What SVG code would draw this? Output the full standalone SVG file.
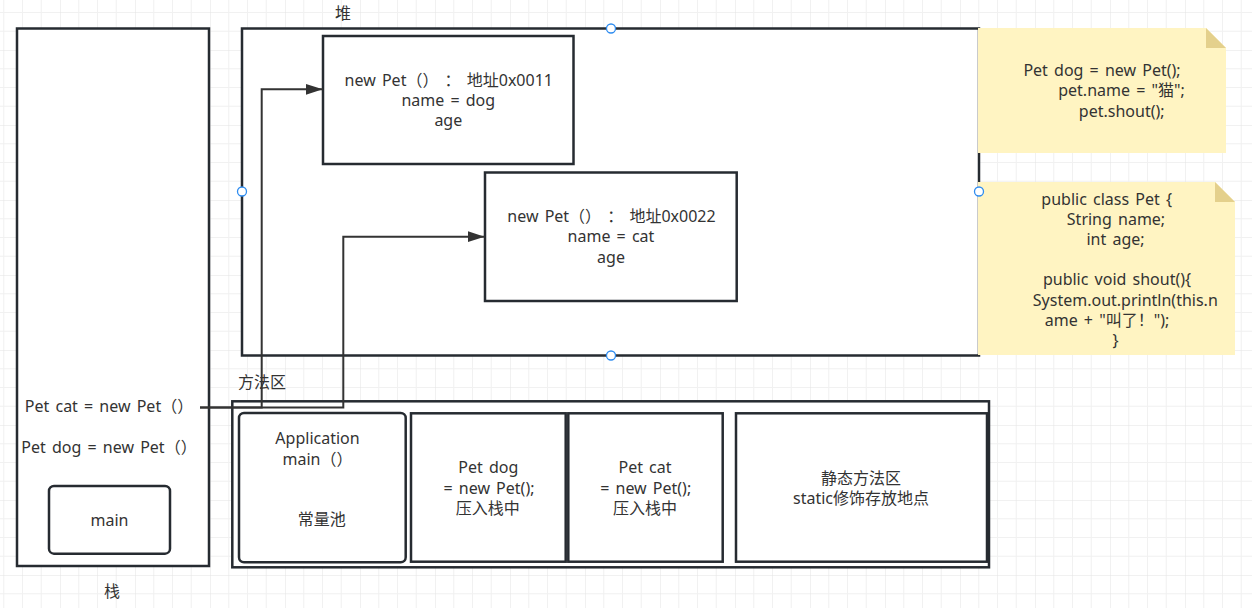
<svg xmlns="http://www.w3.org/2000/svg" width="1252" height="608" viewBox="0 0 1252 608">
<defs>
<pattern id="grid" patternUnits="userSpaceOnUse" x="60" y="50" width="75" height="75">
<rect x="0" y="0" width="75" height="75" fill="#ffffff"/>
<rect x="18.25" y="0" width="1" height="75" fill="#f1f1f1"/>
<rect x="37" y="0" width="1" height="75" fill="#f1f1f1"/>
<rect x="55.75" y="0" width="1" height="75" fill="#f1f1f1"/>
<rect x="0" y="18.25" width="75" height="1" fill="#f1f1f1"/>
<rect x="0" y="37" width="75" height="1" fill="#f1f1f1"/>
<rect x="0" y="55.75" width="75" height="1" fill="#f1f1f1"/>
<rect x="-0.5" y="0" width="1" height="75" fill="#e4e4e4"/>
<rect x="0" y="-0.5" width="75" height="1" fill="#e4e4e4"/>
</pattern>
<marker id="arrow" markerUnits="userSpaceOnUse" markerWidth="18" markerHeight="12" refX="17" refY="6" orient="auto">
<path d="M0,0.5 L17,6 L0,11.5 Z" fill="#333333"/>
</marker>
<style>
.box{fill:#ffffff;stroke:#262b31;stroke-width:2.5}
.t{font-family:"Noto Sans","Noto Sans CJK SC",sans-serif;font-size:16px;fill:#333333;text-anchor:middle;word-spacing:2px}
.note{fill:#fff4c2}
.fold{fill:#e4d08c}
.handle{fill:#ffffff;stroke:#2e8cf0;stroke-width:1.3}
.conn{fill:none;stroke:#333333;stroke-width:2}
</style>
</defs>
<rect x="0" y="0" width="1252" height="608" fill="url(#grid)"/>

<g id="stack">
<rect class="box" x="17" y="28.5" width="192" height="537.5"/>
<text class="t" x="109" y="412.2">Pet cat = new Pet（）</text>
<text class="t" x="109" y="453.2">Pet dog = new Pet（）</text>
<text class="t" x="112" y="597.2">栈</text>
</g>
<g id="main">
<rect class="box" x="49" y="486" width="121" height="67.7" rx="5"/>
<text class="t" x="109.5" y="525.5">main</text>
</g>

<g id="heap">
<rect class="box" x="242" y="28.5" width="737" height="327"/>
<text class="t" x="343" y="18.5">堆</text>
</g>
<g id="obj1">
<rect class="box" x="323" y="36" width="250.5" height="128"/>
<text class="t" x="448.8" y="86.2">new Pet（） ： 地址0x0011</text>
<text class="t" x="448.3" y="106.2">name = dog</text>
<text class="t" x="448.3" y="126.2">age</text>
</g>
<g id="obj2">
<rect class="box" x="485" y="172.5" width="251.7" height="128.5"/>
<text class="t" x="611.5" y="221.7">new Pet（） ： 地址0x0022</text>
<text class="t" x="611" y="241.7">name = cat</text>
<text class="t" x="611" y="262.5">age</text>
</g>

<g id="note1">
<path class="note" d="M978,28 H1206 L1226,48 V153 H978 Z"/>
<path class="fold" d="M1206,28 V48 H1226 Z"/>
<text class="t" x="1102" y="75.7">Pet dog = new Pet();</text>
<text class="t" x="1121.5" y="96.2">pet.name = "猫";</text>
<text class="t" x="1121.7" y="117.2">pet.shout();</text>
</g>
<g id="note2">
<path class="note" d="M978,182 H1215 L1235,202 V355 H978 Z"/>
<path class="fold" d="M1215,182 V202 H1235 Z"/>
<text class="t" x="1106.7" y="204.5">public class Pet {</text>
<text class="t" x="1116" y="224.5">String name;</text>
<text class="t" x="1115.5" y="244.7">int age;</text>
<text class="t" x="1117" y="284.7">public void shout(){</text>
<text class="t" x="1125.3" y="305.5">System.out.println(this.n</text>
<text class="t" x="1107" y="326.2">ame + "叫了！");</text>
<text class="t" x="1115.5" y="346.2">}</text>
</g>

<g id="handles">
<circle class="handle" cx="611" cy="28.5" r="4.5"/>
<circle class="handle" cx="242" cy="191.5" r="4.5"/>
<circle class="handle" cx="979" cy="191.5" r="4.5"/>
<circle class="handle" cx="611" cy="355.5" r="4.5"/>
</g>

<g id="method-area">
<rect class="box" x="232.3" y="401.3" width="756.7" height="166"/>
<text class="t" x="262" y="387.5">方法区</text>
</g>
<g id="application">
<rect class="box" x="239" y="413" width="166.7" height="149.3" rx="5"/>
<text class="t" x="317.5" y="444.3">Application</text>
<text class="t" x="317.5" y="464.5">main（）</text>
<text class="t" x="321.7" y="524.8">常量池</text>
</g>
<g id="petdog">
<rect class="box" x="411" y="413.3" width="154.7" height="148.4"/>
<text class="t" x="488.3" y="473.2">Pet dog</text>
<text class="t" x="489" y="493.8">= new Pet();</text>
<text class="t" x="487.7" y="513.8">压入栈中</text>
</g>
<g id="petcat">
<rect class="box" x="568.3" y="413.3" width="154.4" height="148.4"/>
<text class="t" x="645" y="473.2">Pet cat</text>
<text class="t" x="645.7" y="493.5">= new Pet();</text>
<text class="t" x="645" y="513.5">压入栈中</text>
</g>
<g id="static">
<rect class="box" x="736" y="413.3" width="251" height="148.4"/>
<text class="t" x="861" y="483.5">静态方法区</text>
<text class="t" x="861" y="503.5">static修饰存放地点</text>
</g>

<g id="connectors">
<path class="conn" d="M200,407.5 H261.7 V89.3 H322.7" marker-end="url(#arrow)"/>
<path class="conn" d="M200,407.5 H343.3 V236.7 H484.5" marker-end="url(#arrow)"/>
</g>
</svg>
